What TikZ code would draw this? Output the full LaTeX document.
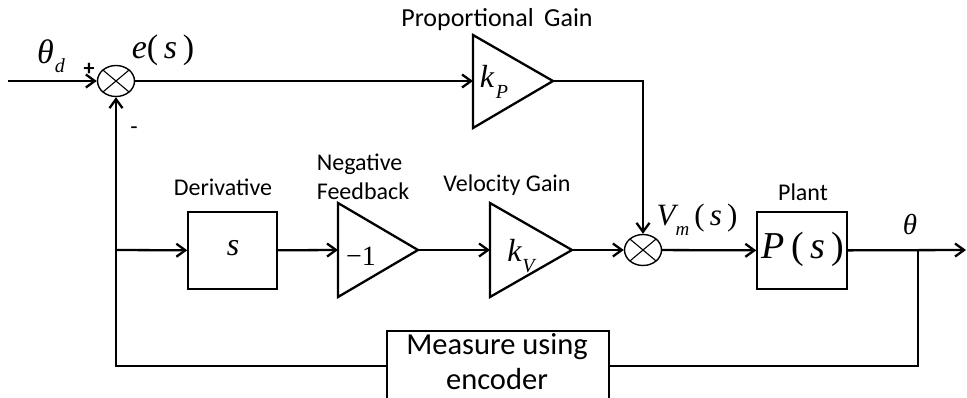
\documentclass[tikz,border=0pt]{standalone}
\usepackage{fontspec}
\setmainfont{Carlito}
\newfontfamily\tnr{Liberation Serif}
\usetikzlibrary{arrows.meta,shapes.geometric}

% math-like glyphs set in a Times-style serif
\newcommand\iv[1]{{\tnr\itshape #1}}
\newcommand\rv[1]{{\tnr #1}}
\newcommand\fs[1]{\fontsize{#1}{#1}\selectfont}

\begin{document}
\begin{tikzpicture}[x=1pt,y=-1pt,
  wire/.style={line width=2.3pt},
  arr/.style={wire,-{Straight Barb[length=9pt,width=13pt]}},
  blk/.style={draw,line width=1.4pt,rectangle,inner sep=0pt},
  amp/.style={line width=2.3pt,line join=miter},
  sumj/.style={draw,ellipse,line width=1.4pt,inner sep=0pt,
    minimum width=37pt,minimum height=31pt,
    path picture={\draw[line width=1.1pt]
      (path picture bounding box.north west)--(path picture bounding box.south east)
      (path picture bounding box.north east)--(path picture bounding box.south west);}},
  captxt/.style={font=\fontsize{24}{29}\selectfont},
  txt/.style={inner sep=0pt}]
\useasboundingbox (0,0) rectangle (967,397);

% summing junctions
\node[sumj] (s1) at (116,81) {};
\node[sumj] (s2) at (643,250) {};

% blocks
\node[blk,minimum width=89pt,minimum height=77pt] (der) at (232.5,250.5) {};
\node[txt] (dertxt) at (233,248) {\fs{32}\iv{s}};
\node[blk,minimum width=90pt,minimum height=77pt] (plant) at (802,250.5) {};
\node[txt] (planttxt) at (803,249) {\fs{38}\iv{P}\,\rv{(}\,\iv{s}\,\rv{)}};
\node[blk,minimum width=222pt,minimum height=70pt] (meas) at (498,366) {};
\node[txt,font=\fs{30.5}] (meastxt1) at (497,347) {Measure using};
\node[txt,font=\fs{30.5}] (meastxt2) at (497,379) {encoder};

% gain triangles
\coordinate (kPin) at (473,81);  \coordinate (kPout) at (553,81);
\draw[amp] (473,35) -- (kPout) -- (473,128) -- cycle;
\coordinate (nin) at (338,250);  \coordinate (nout) at (418,250);
\draw[amp] (338,203) -- (nout) -- (338,297) -- cycle;
\coordinate (kVin) at (490,250); \coordinate (kVout) at (572,250);
\draw[amp] (490,203) -- (kVout) -- (490,297) -- cycle;

\node[txt] (kP) at (494,82) {\fs{32}\iv{k}\kern2pt\raisebox{-11pt}{\fs{20}\iv{P}}};
\node[txt] (neg) at (361,256) {\fs{28}\rv{−1}};
\node[txt] (kV) at (521,256) {\fs{32}\iv{k}\kern1pt\raisebox{-11pt}{\fs{20}\iv{V}}};

% connectors
\coordinate (in) at (8,81);
\coordinate (out) at (966,250);
\coordinate (tap) at (918,250);
\coordinate (fb) at (116,250);
\draw[arr] (in) -- (s1);
\draw[arr] (s1) -- (kPin);
\draw[arr] (kPout) -| (s2);
\draw[arr] (fb) -- (der);
\draw[arr] (der) -- (nin);
\draw[arr] (nout) -- (kVin);
\draw[arr] (kVout) -- (s2);
\draw[arr] (s2) -- (plant);
\draw[arr] (plant) -- (out);
\draw[wire] (tap) |- (meas.east);
\draw[arr] (meas.west) -| (s1);

% signal labels
\node[txt] (thd) at (51,56) {\fs{34}\iv{θ}\kern1pt\raisebox{-9pt}{\fs{20}\iv{d}}};
\node[txt] (plus) at (89,69) {\fs{22}\textbf{+}};
\node[txt] (minus) at (134,131) {\fs{24}-};
\node[txt] (err) at (163,50) {\fs{34}\iv{e}\rv{(}\,\iv{s}\,\rv{)}};
\node[txt] (vm) at (697,220) {\fs{31}\iv{V}\raisebox{-10pt}{\fs{19}\iv{m}}\,\rv{(}\,\iv{s}\,\rv{)}};
\node[txt] (th) at (910,224) {\fs{29}\iv{θ}};

% captions
\node[captxt,font=\fs{26}] (cP) at (497,20) {Proportional\hspace{0.4em}Gain};
\node[captxt] (cD) at (223,187) {Derivative};
\node[captxt,align=left] (cN) at (363,177) {Negative\\Feedback};
\node[captxt] (cV) at (507,185) {Velocity Gain};
\node[captxt] (cPl) at (803,192) {Plant};
\end{tikzpicture}
\end{document}
